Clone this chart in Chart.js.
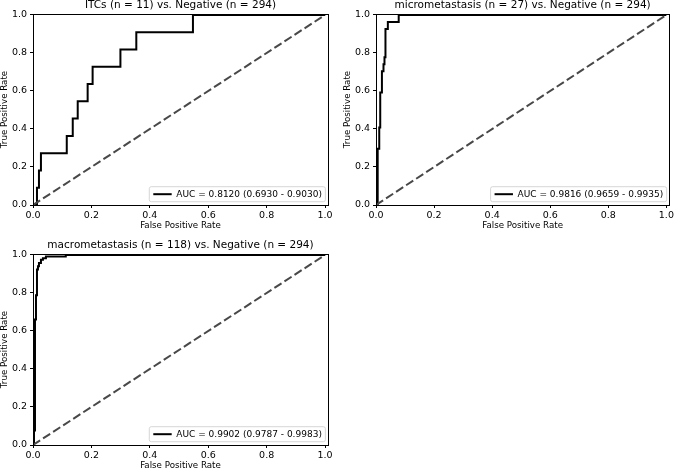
<!DOCTYPE html>
<html><head><meta charset="utf-8">
<script src="https://cdn.jsdelivr.net/npm/chart.js@4.4.0/dist/chart.umd.min.js"></script>
<style>
html,body{margin:0;padding:0;background:#fff;overflow:hidden;width:676px;height:471px;}
#wrap{position:relative;width:676px;height:471px;overflow:hidden;background:#fff;}
canvas{position:absolute;}
</style></head><body>
<div id="wrap">
<canvas id="c1"></canvas><canvas id="c2"></canvas><canvas id="c3"></canvas>
</div>
<script>
// ---- data ----
const xTicks = [0, 0.2, 0.4, 0.6, 0.8, 1.0];
const yTicks = [0, 0.2, 0.4, 0.6, 0.8, 1.0];
const chanceFpr = [0, 1];
const chanceTpr = [0, 1];

const itcsFpr = [0, 0.0136, 0.0136, 0.0204, 0.0204, 0.0272, 0.0272, 0.1156, 0.1156, 0.1361, 0.1361, 0.1531, 0.1531, 0.1871, 0.1871, 0.2041, 0.2041, 0.2993, 0.2993, 0.3537, 0.3537, 0.5476, 0.5476, 1.0];
const itcsTpr = [0, 0, 0.0909, 0.0909, 0.1818, 0.1818, 0.2727, 0.2727, 0.3636, 0.3636, 0.4545, 0.4545, 0.5455, 0.5455, 0.6364, 0.6364, 0.7273, 0.7273, 0.8182, 0.8182, 0.9091, 0.9091, 1.0, 1.0];

const microFpr = [0, 0.0058, 0.0058, 0.0112, 0.0112, 0.0146, 0.0146, 0.0204, 0.0204, 0.0258, 0.0258, 0.0292, 0.0292, 0.0326, 0.0326, 0.0408, 0.0408, 0.0782, 0.0782, 1.0];
const microTpr = [0, 0, 0.2963, 0.2963, 0.4074, 0.4074, 0.5926, 0.5926, 0.7037, 0.7037, 0.7407, 0.7407, 0.7778, 0.7778, 0.9259, 0.9259, 0.9630, 0.9630, 1.0, 1.0];

const macroFpr = [0, 0.0034, 0.0034, 0.0068, 0.0068, 0.0102, 0.0102, 0.0136, 0.0136, 0.0170, 0.0170, 0.0204, 0.0204, 0.0272, 0.0272, 0.0340, 0.0340, 0.0442, 0.0442, 0.1122, 0.1122, 1.0];
const macroTpr = [0, 0, 0.0763, 0.0763, 0.6610, 0.6610, 0.7881, 0.7881, 0.9237, 0.9237, 0.9407, 0.9407, 0.9576, 0.9576, 0.9746, 0.9746, 0.9831, 0.9831, 0.9915, 0.9915, 1.0, 1.0];

const titles = ["ITCs (n = 11) vs. Negative (n = 294)", "micrometastasis (n = 27) vs. Negative (n = 294)", "macrometastasis (n = 118) vs. Negative (n = 294)"];
const aucLabels = ["AUC = 0.8120 (0.6930 - 0.9030)", "AUC = 0.9816 (0.9659 - 0.9935)", "AUC = 0.9902 (0.9787 - 0.9983)"];
const xLabel = "False Positive Rate";
const yLabel = "True Positive Rate";

// ---- rendering ----
const FONT = '"DejaVu Sans", sans-serif';
Chart.defaults.font.family = FONT;
Chart.defaults.color = '#000';

const framePlugin = {
  id: 'frame',
  afterDatasetsDraw(chart) {
    const {ctx, chartArea: a} = chart;
    ctx.save();
    ctx.strokeStyle = '#000';
    ctx.lineWidth = 1;
    const l = Math.floor(a.left) + 0.5, t = Math.floor(a.top) + 0.5;
    const r = Math.floor(a.right) + 0.5, b = Math.floor(a.bottom) + 0.5;
    ctx.strokeRect(l, t, r - l, b - t);
    ctx.restore();
  }
};

const legendPlugin = {
  id: 'inLegend',
  afterDraw(chart) {
    const ds = chart.data.datasets.find(d => d.isRoc);
    if (!ds) return;
    const {ctx, chartArea: a} = chart;
    ctx.save();
    const fs = 9;
    ctx.font = fs + 'px ' + FONT;
    const tw = ctx.measureText(ds.label).width;
    const pad = 4, hl = 18.4, hp = 4.6, padR = 3.5;
    const w = pad + hl + hp + tw + padR, h = 15;
    const x = a.right - 2.6 - w, y = a.bottom - 3.3 - h;
    ctx.beginPath();
    ctx.roundRect(x, y, w, h, 2);
    ctx.fillStyle = 'rgba(255,255,255,0.8)';
    ctx.fill();
    ctx.strokeStyle = 'rgba(204,204,204,0.8)';
    ctx.lineWidth = 1;
    ctx.stroke();
    ctx.beginPath();
    ctx.moveTo(x + pad, y + h / 2);
    ctx.lineTo(x + pad + hl, y + h / 2);
    ctx.strokeStyle = ds.borderColor;
    ctx.lineWidth = ds.borderWidth;
    ctx.stroke();
    ctx.fillStyle = '#000';
    ctx.textBaseline = 'middle';
    ctx.textAlign = 'left';
    ctx.fillText(ds.label, x + pad + hl + hp, y + h / 2 + 0.5);
    ctx.restore();
  }
};

function pts(xs, ys) { return xs.map((v, i) => ({x: v, y: ys[i]})); }

function makeChart(id, left, top, width, height, padRight, fpr, tpr, title, auc) {
  const cv = document.getElementById(id);
  cv.width = width; cv.height = height;
  cv.style.left = left + 'px'; cv.style.top = top + 'px';
  cv.style.width = width + 'px'; cv.style.height = height + 'px';
  new Chart(cv, {
    type: 'scatter',
    data: {
      datasets: [
        {label: 'chance', data: pts(chanceFpr, chanceTpr), showLine: true, borderColor: '#484848', borderWidth: 2, borderDash: [8.5, 3.5], pointRadius: 0, fill: false},
        {label: auc, isRoc: true, data: pts(fpr, tpr), showLine: true, borderColor: '#000', borderWidth: 2, pointRadius: 0, fill: false, borderJoinStyle: 'miter', borderCapStyle: 'butt'}
      ]
    },
    options: {
      responsive: false,
      animation: false,
      devicePixelRatio: 1,
      layout: {padding: {left: 0, top: 0, right: padRight, bottom: 0}},
      plugins: {
        legend: {display: false},
        tooltip: {enabled: false},
        title: {display: true, text: title, fullSize: false, font: {size: 10.5, lineHeight: 1, weight: 'normal'}, color: '#000', padding: {top: 0, bottom: 3.5}}
      },
      scales: {
        x: {
          type: 'linear', min: 0, max: 1.01,
          afterBuildTicks: s => { s.ticks = xTicks.map(v => ({value: v})); },
          afterFit: s => { s.height = 31; },
          ticks: {font: {size: 9.5}, color: '#000', padding: 2, maxRotation: 0, callback: v => v.toFixed(1)},
          grid: {display: true, drawOnChartArea: false, drawTicks: true, tickLength: 3, tickColor: '#000', tickWidth: 1},
          border: {display: false},
          title: {display: true, text: xLabel, font: {size: 8.7, lineHeight: 1}, color: '#000', padding: {top: 0, bottom: 6.2}}
        },
        y: {
          type: 'linear', min: 0, max: 1.005,
          afterBuildTicks: s => { s.ticks = yTicks.map(v => ({value: v})); },
          afterFit: s => { s.width = 33; },
          ticks: {font: {size: 9.5}, color: '#000', padding: 3, callback: v => v.toFixed(1)},
          grid: {display: true, drawOnChartArea: false, drawTicks: true, tickLength: 3, tickColor: '#000', tickWidth: 1},
          border: {display: false},
          title: {display: true, text: yLabel, font: {size: 8.7, lineHeight: 1}, color: '#000', padding: {top: 0.5, bottom: 0}}
        }
      }
    },
    plugins: [framePlugin, legendPlugin]
  });
}

makeChart('c1', 0, 0, 340, 236, 12, itcsFpr, itcsTpr, titles[0], aucLabels[0]);
makeChart('c2', 343, 0, 333, 236, 5, microFpr, microTpr, titles[1], aucLabels[1]);
makeChart('c3', 0, 240, 340, 236, 12, macroFpr, macroTpr, titles[2], aucLabels[2]);
</script>
</body></html>
